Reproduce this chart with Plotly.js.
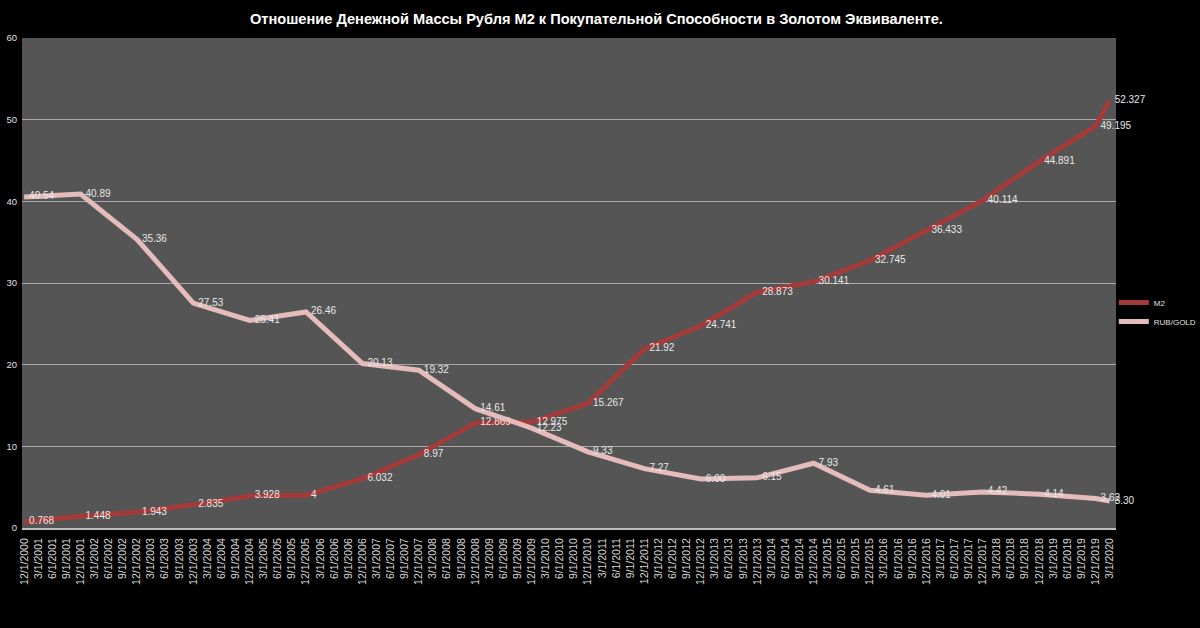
<!DOCTYPE html>
<html>
<head>
<meta charset="utf-8">
<script src="https://cdn.plot.ly/plotly-3.0.1.min.js"></script>
<style>
html,body{margin:0;padding:0;background:#000;}
#chart{width:1200px;height:628px;}
</style>
</head>
<body>
<div id="chart"></div>
<script>
// Quarterly category tick labels
const quarterLabels = [
"12/1/2000",
"3/1/2001","6/1/2001","9/1/2001","12/1/2001",
"3/1/2002","6/1/2002","9/1/2002","12/1/2002",
"3/1/2003","6/1/2003","9/1/2003","12/1/2003",
"3/1/2004","6/1/2004","9/1/2004","12/1/2004",
"3/1/2005","6/1/2005","9/1/2005","12/1/2005",
"3/1/2006","6/1/2006","9/1/2006","12/1/2006",
"3/1/2007","6/1/2007","9/1/2007","12/1/2007",
"3/1/2008","6/1/2008","9/1/2008","12/1/2008",
"3/1/2009","6/1/2009","9/1/2009","12/1/2009",
"3/1/2010","6/1/2010","9/1/2010","12/1/2010",
"3/1/2011","6/1/2011","9/1/2011","12/1/2011",
"3/1/2012","6/1/2012","9/1/2012","12/1/2012",
"3/1/2013","6/1/2013","9/1/2013","12/1/2013",
"3/1/2014","6/1/2014","9/1/2014","12/1/2014",
"3/1/2015","6/1/2015","9/1/2015","12/1/2015",
"3/1/2016","6/1/2016","9/1/2016","12/1/2016",
"3/1/2017","6/1/2017","9/1/2017","12/1/2017",
"3/1/2018","6/1/2018","9/1/2018","12/1/2018",
"3/1/2019","6/1/2019","9/1/2019","12/1/2019",
"3/1/2020"
];

// Dates of the observations
const dates = [
"12/1/2000","12/1/2001","12/1/2002","12/1/2003","12/1/2004","12/1/2005",
"12/1/2006","12/1/2007","12/1/2008","12/1/2009","12/1/2010","12/1/2011",
"12/1/2012","12/1/2013","12/1/2014","12/1/2015","12/1/2016","12/1/2017",
"12/1/2018","12/1/2019","3/1/2020"
];

// Series values
const m2 = [0.768,1.448,1.943,2.835,3.928,4,6.032,8.97,12.869,12.975,15.267,21.92,
            24.741,28.873,30.141,32.745,36.433,40.114,44.891,49.195,52.327];
const m2Labels = ["0.768","1.448","1.943","2.835","3.928","4","6.032","8.97","12.869","12.975",
                  "15.267","21.92","24.741","28.873","30.141","32.745","36.433","40.114","44.891","49.195","52.327"];

const rubGold = [40.54,40.89,35.36,27.53,25.41,26.46,20.13,19.32,14.61,12.23,9.33,7.27,
                 6.00,6.15,7.93,4.61,4.01,4.42,4.14,3.62,3.30];
const rubGoldLabels = ["40.54","40.89","35.36","27.53","25.41","26.46","20.13","19.32","14.61","12.23",
                       "9.33","7.27","6.00","6.15","7.93","4.61","4.01","4.42","4.14","3.62","3.30"];

const yTicks = [0,10,20,30,40,50,60];

const labelFont = {family: "Liberation Sans, Arial, sans-serif", size: 10, color: "#e8e8e8"};
const pad = s => "\u2002" + s;

const traces = [
  {
    type: "scatter", mode: "lines+text", name: "M2",
    x: dates, y: m2, text: m2Labels.map(pad), textposition: "middle right",
    textfont: labelFont, cliponaxis: false,
    line: {color: "#a33b3b", width: 5}
  },
  {
    type: "scatter", mode: "lines+text", name: "RUB/GOLD",
    x: dates, y: rubGold, text: rubGoldLabels.map(pad), textposition: "middle right",
    textfont: labelFont, cliponaxis: false,
    line: {color: "#e3bcbb", width: 5}
  }
];

const layout = {
  width: 1200, height: 628,
  paper_bgcolor: "#000000",
  plot_bgcolor: "#555555",
  margin: {l: 22, r: 84, t: 38, b: 100, autoexpand: false},
  title: {
    text: "<b>Отношение Денежной Массы Рубля М2 к Покупательной Способности в Золотом Эквиваленте.</b>",
    font: {family: "Liberation Sans, Arial, sans-serif", size: 14.6, color: "#ffffff"},
    x: 0.497, xanchor: "center", y: 0.97, yanchor: "middle"
  },
  xaxis: {
    type: "category",
    categoryorder: "array",
    categoryarray: quarterLabels,
    tickvals: quarterLabels,
    ticktext: quarterLabels,
    range: [-0.15, 77.45],
    tickangle: -90,
    tickfont: {family: "Liberation Sans, Arial, sans-serif", size: 10.5, color: "#d9d9d9"},
    ticklabelstandoff: 4,
    showgrid: false,
    showline: true, linecolor: "#bdbdbd", linewidth: 2,
    ticks: "", zeroline: false,
    fixedrange: true
  },
  yaxis: {
    range: [0, 60],
    tickvals: yTicks,
    ticktext: yTicks.map(String),
    tickfont: {family: "Liberation Sans, Arial, sans-serif", size: 9.5, color: "#e0e0e0"},
    showgrid: true, gridcolor: "#a8a8a8", gridwidth: 1,
    zeroline: false, showline: false, ticks: "",
    ticklabelstandoff: 4,
    fixedrange: true
  },
  showlegend: true,
  legend: {
    x: 0.998, y: 0.49, xanchor: "left", yanchor: "top",
    bgcolor: "rgba(0,0,0,0)",
    font: {family: "Liberation Sans, Arial, sans-serif", size: 8, color: "#e0e0e0"},
    itemwidth: 30, tracegroupgap: 4
  }
};

Plotly.newPlot("chart", traces, layout, {displayModeBar: false, staticPlot: true});
</script>
</body>
</html>
